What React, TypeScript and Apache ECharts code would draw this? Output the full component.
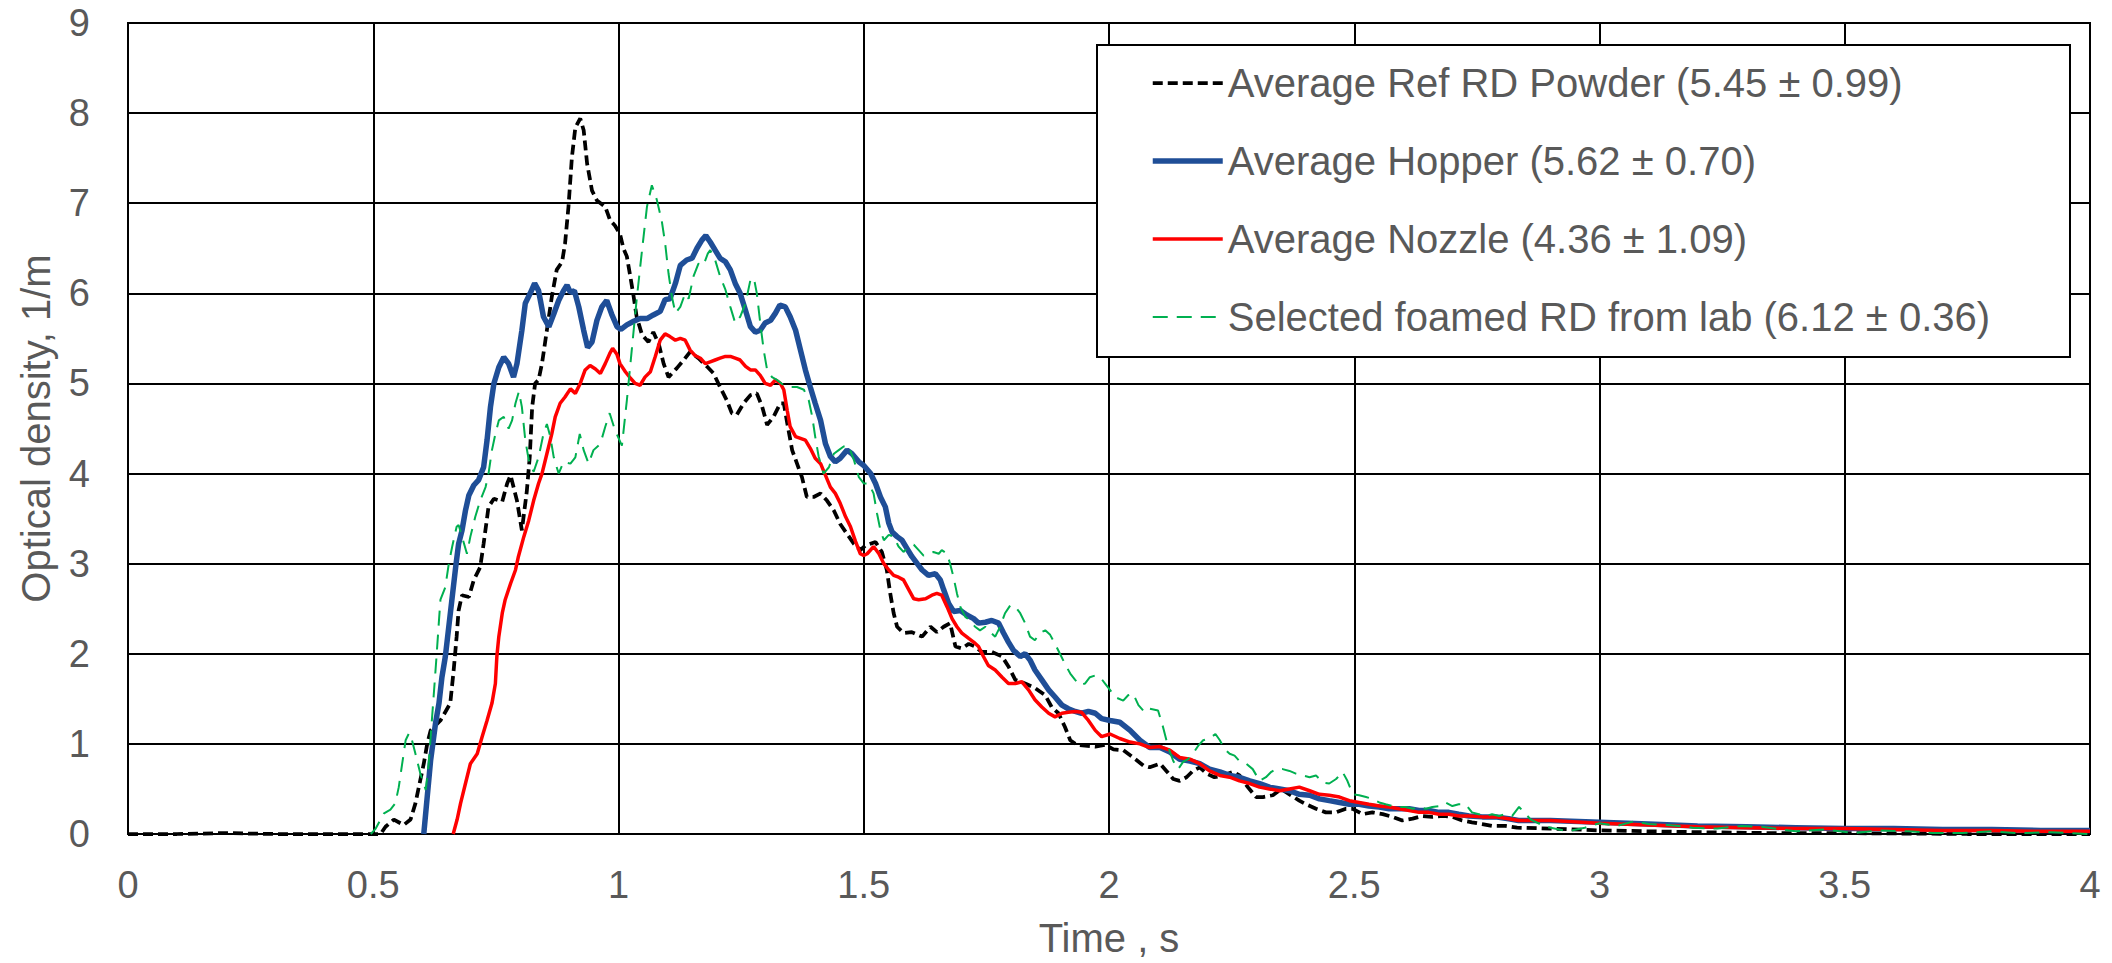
import React, { useEffect, useRef } from 'react';
import * as echarts from 'echarts';

// Time (s), optical density (1/m)
const refPowder: [number, number][] = [
  [0, 0], [0.1, 0], [0.2, 0.01], [0.3, 0], [0.4, 0], [0.5, 0],
  [0.515, 0.0], [0.525, 0.08], [0.542, 0.16], [0.562, 0.1], [0.576, 0.16], [0.586, 0.34], [0.596, 0.6], [0.603, 0.78], [0.61, 1.0], [0.617, 1.15], [0.637, 1.26], [0.657, 1.45], [0.664, 1.82], [0.67, 2.19], [0.674, 2.48], [0.681, 2.65], [0.695, 2.63], [0.705, 2.82], [0.718, 2.96], [0.725, 3.22], [0.735, 3.63], [0.746, 3.72], [0.763, 3.69], [0.773, 3.89], [0.78, 3.98], [0.793, 3.7], [0.803, 3.37], [0.813, 3.8], [0.819, 4.18], [0.824, 4.74], [0.83, 5.0], [0.837, 5.04], [0.844, 5.22], [0.854, 5.59], [0.864, 5.96], [0.874, 6.26], [0.885, 6.35], [0.891, 6.55], [0.898, 6.96], [0.905, 7.51], [0.912, 7.84], [0.922, 7.94], [0.929, 7.81], [0.936, 7.44], [0.946, 7.14], [0.956, 7.03], [0.973, 6.96], [0.983, 6.81], [0.993, 6.75], [1.003, 6.66], [1.01, 6.5], [1.017, 6.41], [1.024, 6.19], [1.031, 5.96], [1.037, 5.74], [1.048, 5.54], [1.061, 5.46], [1.071, 5.57], [1.082, 5.44], [1.092, 5.22], [1.102, 5.07], [1.119, 5.17], [1.133, 5.26], [1.146, 5.35], [1.163, 5.28], [1.18, 5.19], [1.194, 5.11], [1.207, 4.96], [1.221, 4.81], [1.231, 4.67], [1.241, 4.65], [1.255, 4.78], [1.269, 4.87], [1.282, 4.89], [1.293, 4.74], [1.303, 4.54], [1.316, 4.63], [1.33, 4.78], [1.337, 4.78], [1.344, 4.56], [1.354, 4.26], [1.364, 4.11], [1.374, 3.96], [1.384, 3.74], [1.398, 3.74], [1.412, 3.78], [1.425, 3.7], [1.439, 3.59], [1.452, 3.44], [1.466, 3.33], [1.48, 3.22], [1.493, 3.15], [1.503, 3.2], [1.524, 3.24], [1.537, 3.13], [1.547, 2.93], [1.554, 2.67], [1.561, 2.45], [1.568, 2.3], [1.581, 2.23], [1.598, 2.24], [1.619, 2.19], [1.636, 2.3], [1.649, 2.24], [1.663, 2.3], [1.676, 2.34], [1.687, 2.08], [1.7, 2.06], [1.714, 2.11], [1.727, 2.08], [1.741, 2.02], [1.761, 2.02], [1.782, 1.97], [1.795, 1.86], [1.809, 1.71], [1.829, 1.67], [1.849, 1.62], [1.87, 1.54], [1.883, 1.41], [1.897, 1.34], [1.91, 1.19], [1.921, 1.04], [1.934, 0.99], [1.951, 0.98], [1.972, 0.97], [1.992, 0.99], [2.009, 0.94], [2.029, 0.93], [2.049, 0.85], [2.07, 0.76], [2.083, 0.74], [2.104, 0.78], [2.117, 0.7], [2.131, 0.61], [2.144, 0.59], [2.158, 0.63], [2.171, 0.7], [2.185, 0.74], [2.199, 0.67], [2.215, 0.63], [2.232, 0.65], [2.253, 0.69], [2.266, 0.65], [2.283, 0.52], [2.3, 0.41], [2.314, 0.41], [2.334, 0.43], [2.351, 0.5], [2.368, 0.44], [2.388, 0.37], [2.402, 0.33], [2.422, 0.28], [2.442, 0.24], [2.463, 0.24], [2.483, 0.28], [2.497, 0.28], [2.517, 0.22], [2.537, 0.24], [2.558, 0.22], [2.578, 0.19], [2.598, 0.15], [2.619, 0.17], [2.639, 0.2], [2.659, 0.19], [2.68, 0.2], [2.7, 0.19], [2.72, 0.15], [2.74, 0.13], [2.761, 0.11], [2.781, 0.09], [2.808, 0.09], [2.832, 0.07], [2.9, 0.06], [3.0, 0.04], [3.1, 0.03], [3.2, 0.02], [3.35, 0.01], [3.5, 0.01], [3.75, 0.0], [4.0, 0.0],
];

const hopper: [number, number][] = [
  [0.603, 0], [0.61, 0.41], [0.617, 0.82], [0.627, 1.23], [0.634, 1.45], [0.64, 1.74], [0.647, 1.97], [0.654, 2.3], [0.661, 2.63], [0.668, 2.96], [0.674, 3.22], [0.681, 3.37], [0.688, 3.59], [0.695, 3.76], [0.705, 3.87], [0.715, 3.93], [0.725, 4.07], [0.732, 4.37], [0.739, 4.74], [0.746, 5.0], [0.756, 5.18], [0.766, 5.29], [0.776, 5.22], [0.786, 5.07], [0.793, 5.22], [0.803, 5.59], [0.81, 5.89], [0.82, 6.0], [0.829, 6.11], [0.837, 6.03], [0.847, 5.74], [0.858, 5.63], [0.868, 5.77], [0.878, 5.92], [0.888, 6.03], [0.895, 6.09], [0.902, 6.01], [0.91, 6.03], [0.919, 5.85], [0.929, 5.59], [0.937, 5.4], [0.946, 5.46], [0.956, 5.7], [0.966, 5.85], [0.976, 5.92], [0.986, 5.77], [0.997, 5.63], [1.005, 5.6], [1.017, 5.65], [1.031, 5.69], [1.044, 5.72], [1.058, 5.72], [1.071, 5.76], [1.085, 5.8], [1.095, 5.93], [1.105, 5.94], [1.116, 6.11], [1.126, 6.31], [1.139, 6.37], [1.15, 6.39], [1.16, 6.5], [1.17, 6.59], [1.178, 6.64], [1.187, 6.57], [1.197, 6.48], [1.207, 6.39], [1.218, 6.35], [1.228, 6.26], [1.238, 6.11], [1.248, 6.0], [1.259, 5.81], [1.269, 5.63], [1.279, 5.57], [1.289, 5.59], [1.299, 5.67], [1.31, 5.7], [1.32, 5.78], [1.329, 5.87], [1.34, 5.85], [1.35, 5.74], [1.361, 5.59], [1.371, 5.37], [1.381, 5.15], [1.391, 4.96], [1.401, 4.78], [1.412, 4.59], [1.422, 4.33], [1.432, 4.19], [1.442, 4.13], [1.452, 4.17], [1.466, 4.26], [1.476, 4.22], [1.49, 4.13], [1.5, 4.09], [1.514, 4.0], [1.524, 3.89], [1.534, 3.74], [1.544, 3.63], [1.551, 3.45], [1.558, 3.35], [1.568, 3.3], [1.578, 3.26], [1.588, 3.17], [1.598, 3.08], [1.609, 3.0], [1.619, 2.93], [1.632, 2.87], [1.646, 2.89], [1.656, 2.82], [1.663, 2.71], [1.673, 2.56], [1.683, 2.47], [1.697, 2.48], [1.71, 2.43], [1.724, 2.39], [1.734, 2.34], [1.748, 2.35], [1.761, 2.37], [1.775, 2.34], [1.785, 2.23], [1.795, 2.13], [1.805, 2.04], [1.819, 1.97], [1.829, 2.0], [1.839, 1.93], [1.849, 1.82], [1.863, 1.71], [1.877, 1.6], [1.89, 1.52], [1.904, 1.43], [1.917, 1.39], [1.931, 1.36], [1.944, 1.34], [1.958, 1.36], [1.972, 1.34], [1.985, 1.28], [2.002, 1.26], [2.022, 1.24], [2.043, 1.15], [2.063, 1.04], [2.083, 0.96], [2.104, 0.96], [2.124, 0.91], [2.144, 0.83], [2.165, 0.81], [2.185, 0.78], [2.205, 0.72], [2.226, 0.69], [2.246, 0.65], [2.266, 0.63], [2.287, 0.59], [2.307, 0.56], [2.327, 0.52], [2.348, 0.5], [2.368, 0.48], [2.388, 0.44], [2.409, 0.43], [2.429, 0.39], [2.449, 0.37], [2.47, 0.35], [2.49, 0.33], [2.51, 0.33], [2.53, 0.31], [2.551, 0.3], [2.571, 0.28], [2.591, 0.28], [2.612, 0.28], [2.632, 0.26], [2.652, 0.26], [2.673, 0.24], [2.693, 0.24], [2.713, 0.22], [2.734, 0.2], [2.761, 0.19], [2.788, 0.19], [2.815, 0.17], [2.835, 0.15], [2.9, 0.15], [3.0, 0.13], [3.1, 0.11], [3.2, 0.09], [3.3, 0.08], [3.4, 0.07], [3.5, 0.06], [3.6, 0.06], [3.7, 0.05], [3.8, 0.05], [3.9, 0.04], [4.0, 0.04],
];

const nozzle: [number, number][] = [
  [0.663, 0], [0.671, 0.16], [0.678, 0.34], [0.688, 0.56], [0.698, 0.78], [0.712, 0.89], [0.722, 1.08], [0.732, 1.26], [0.742, 1.45], [0.749, 1.67], [0.752, 1.97], [0.756, 2.19], [0.763, 2.45], [0.769, 2.6], [0.78, 2.78], [0.79, 2.93], [0.796, 3.08], [0.807, 3.3], [0.817, 3.48], [0.827, 3.7], [0.837, 3.89], [0.844, 4.0], [0.854, 4.22], [0.864, 4.44], [0.871, 4.63], [0.881, 4.78], [0.891, 4.85], [0.902, 4.94], [0.912, 4.89], [0.922, 5.0], [0.932, 5.15], [0.942, 5.2], [0.953, 5.16], [0.963, 5.11], [0.973, 5.22], [0.982, 5.33], [0.988, 5.39], [0.997, 5.32], [1.003, 5.22], [1.014, 5.13], [1.024, 5.06], [1.034, 5.0], [1.044, 4.98], [1.054, 5.07], [1.065, 5.13], [1.075, 5.3], [1.085, 5.48], [1.095, 5.55], [1.105, 5.52], [1.116, 5.48], [1.126, 5.5], [1.136, 5.48], [1.146, 5.37], [1.156, 5.31], [1.167, 5.28], [1.177, 5.22], [1.187, 5.24], [1.197, 5.26], [1.207, 5.28], [1.218, 5.3], [1.228, 5.3], [1.238, 5.28], [1.248, 5.26], [1.259, 5.19], [1.269, 5.15], [1.279, 5.15], [1.289, 5.09], [1.299, 5.0], [1.31, 4.98], [1.32, 5.04], [1.33, 5.0], [1.337, 4.93], [1.344, 4.7], [1.35, 4.52], [1.361, 4.41], [1.371, 4.39], [1.381, 4.37], [1.391, 4.28], [1.401, 4.17], [1.412, 4.11], [1.422, 3.98], [1.432, 3.85], [1.442, 3.78], [1.452, 3.67], [1.463, 3.52], [1.473, 3.41], [1.483, 3.25], [1.493, 3.11], [1.5, 3.09], [1.507, 3.11], [1.52, 3.19], [1.531, 3.11], [1.541, 3.0], [1.551, 2.93], [1.561, 2.87], [1.571, 2.85], [1.581, 2.82], [1.592, 2.71], [1.602, 2.61], [1.612, 2.6], [1.626, 2.61], [1.639, 2.65], [1.649, 2.67], [1.659, 2.65], [1.67, 2.52], [1.68, 2.39], [1.69, 2.3], [1.7, 2.23], [1.714, 2.17], [1.724, 2.13], [1.734, 2.08], [1.744, 1.97], [1.754, 1.87], [1.768, 1.82], [1.782, 1.74], [1.795, 1.67], [1.809, 1.67], [1.822, 1.69], [1.836, 1.6], [1.849, 1.49], [1.863, 1.41], [1.877, 1.34], [1.89, 1.3], [1.904, 1.34], [1.917, 1.35], [1.931, 1.36], [1.944, 1.35], [1.958, 1.26], [1.972, 1.15], [1.985, 1.08], [2.002, 1.11], [2.022, 1.06], [2.043, 1.02], [2.063, 1.0], [2.083, 0.96], [2.104, 0.97], [2.124, 0.93], [2.144, 0.85], [2.165, 0.83], [2.185, 0.78], [2.205, 0.7], [2.226, 0.65], [2.246, 0.63], [2.266, 0.59], [2.287, 0.56], [2.307, 0.52], [2.327, 0.5], [2.348, 0.48], [2.368, 0.5], [2.388, 0.52], [2.409, 0.48], [2.429, 0.44], [2.449, 0.43], [2.47, 0.41], [2.49, 0.37], [2.51, 0.35], [2.53, 0.33], [2.551, 0.31], [2.571, 0.3], [2.591, 0.28], [2.612, 0.26], [2.632, 0.24], [2.652, 0.24], [2.673, 0.22], [2.693, 0.22], [2.713, 0.2], [2.734, 0.2], [2.761, 0.19], [2.788, 0.19], [2.815, 0.17], [2.835, 0.15], [2.9, 0.15], [3.0, 0.12], [3.1, 0.1], [3.2, 0.08], [3.3, 0.07], [3.4, 0.06], [3.5, 0.06], [3.6, 0.05], [3.7, 0.04], [3.8, 0.04], [3.9, 0.03], [4.0, 0.03],
];

const foamedLab: [number, number][] = [
  [0.495, 0], [0.505, 0.06], [0.522, 0.23], [0.535, 0.27], [0.545, 0.34], [0.552, 0.52], [0.559, 0.78], [0.566, 1.04], [0.573, 1.12], [0.579, 1.04], [0.586, 0.89], [0.596, 0.67], [0.607, 0.49], [0.613, 0.78], [0.618, 1.15], [0.623, 1.52], [0.629, 1.97], [0.634, 2.37], [0.637, 2.6], [0.647, 2.74], [0.654, 3.0], [0.661, 3.19], [0.67, 3.41], [0.674, 3.43], [0.681, 3.3], [0.691, 3.11], [0.698, 3.3], [0.708, 3.52], [0.718, 3.7], [0.729, 3.85], [0.735, 4.0], [0.742, 4.26], [0.749, 4.44], [0.756, 4.59], [0.766, 4.63], [0.776, 4.5], [0.783, 4.59], [0.79, 4.78], [0.797, 4.91], [0.803, 4.74], [0.81, 4.37], [0.817, 4.15], [0.827, 4.02], [0.837, 4.18], [0.847, 4.44], [0.854, 4.55], [0.861, 4.41], [0.868, 4.18], [0.878, 4.0], [0.888, 4.13], [0.902, 4.11], [0.912, 4.18], [0.921, 4.44], [0.929, 4.26], [0.939, 4.11], [0.949, 4.26], [0.963, 4.33], [0.973, 4.52], [0.982, 4.67], [0.993, 4.48], [1.007, 4.31], [1.017, 4.81], [1.027, 5.37], [1.037, 5.93], [1.048, 6.48], [1.058, 6.96], [1.068, 7.2], [1.078, 7.04], [1.088, 6.81], [1.095, 6.56], [1.102, 6.22], [1.109, 5.96], [1.116, 5.78], [1.126, 5.85], [1.136, 6.0], [1.143, 5.94], [1.153, 6.19], [1.163, 6.33], [1.173, 6.31], [1.182, 6.44], [1.187, 6.48], [1.197, 6.37], [1.207, 6.19], [1.218, 6.04], [1.228, 5.85], [1.238, 5.67], [1.248, 5.74], [1.259, 5.89], [1.269, 6.15], [1.276, 6.17], [1.282, 6.0], [1.289, 5.67], [1.296, 5.37], [1.303, 5.15], [1.313, 5.07], [1.323, 5.04], [1.337, 4.98], [1.35, 4.96], [1.364, 4.96], [1.378, 4.93], [1.388, 4.81], [1.395, 4.63], [1.401, 4.41], [1.408, 4.19], [1.418, 4.0], [1.429, 4.07], [1.439, 4.22], [1.449, 4.26], [1.459, 4.3], [1.469, 4.31], [1.48, 4.15], [1.49, 3.96], [1.5, 3.89], [1.51, 3.89], [1.52, 3.78], [1.527, 3.56], [1.534, 3.37], [1.541, 3.26], [1.551, 3.32], [1.561, 3.3], [1.571, 3.19], [1.581, 3.13], [1.592, 3.19], [1.602, 3.21], [1.612, 3.15], [1.622, 3.09], [1.632, 3.11], [1.642, 3.13], [1.653, 3.11], [1.659, 3.15], [1.67, 3.11], [1.676, 3.0], [1.683, 2.85], [1.69, 2.67], [1.697, 2.52], [1.707, 2.41], [1.717, 2.37], [1.727, 2.3], [1.737, 2.26], [1.748, 2.3], [1.758, 2.24], [1.768, 2.19], [1.778, 2.3], [1.788, 2.45], [1.799, 2.54], [1.809, 2.52], [1.819, 2.45], [1.829, 2.34], [1.839, 2.19], [1.849, 2.15], [1.859, 2.23], [1.87, 2.26], [1.88, 2.21], [1.89, 2.11], [1.9, 2.0], [1.91, 1.89], [1.921, 1.78], [1.931, 1.71], [1.941, 1.65], [1.951, 1.67], [1.961, 1.74], [1.972, 1.76], [1.982, 1.74], [1.992, 1.67], [2.002, 1.6], [2.012, 1.52], [2.029, 1.48], [2.039, 1.54], [2.049, 1.56], [2.06, 1.43], [2.073, 1.35], [2.083, 1.39], [2.1, 1.37], [2.11, 1.19], [2.121, 0.96], [2.131, 0.81], [2.141, 0.72], [2.151, 0.8], [2.161, 0.83], [2.171, 0.89], [2.182, 0.98], [2.192, 1.04], [2.205, 1.06], [2.217, 1.11], [2.226, 1.04], [2.236, 0.94], [2.246, 0.89], [2.256, 0.87], [2.266, 0.81], [2.28, 0.78], [2.293, 0.72], [2.307, 0.59], [2.32, 0.63], [2.331, 0.69], [2.341, 0.72], [2.354, 0.72], [2.368, 0.7], [2.381, 0.67], [2.395, 0.65], [2.409, 0.63], [2.422, 0.65], [2.436, 0.57], [2.449, 0.56], [2.463, 0.61], [2.476, 0.69], [2.486, 0.59], [2.497, 0.44], [2.51, 0.43], [2.524, 0.41], [2.537, 0.39], [2.551, 0.35], [2.564, 0.33], [2.578, 0.31], [2.591, 0.3], [2.605, 0.3], [2.619, 0.28], [2.632, 0.3], [2.646, 0.28], [2.659, 0.3], [2.673, 0.31], [2.686, 0.35], [2.7, 0.31], [2.713, 0.33], [2.727, 0.33], [2.74, 0.24], [2.754, 0.22], [2.768, 0.2], [2.781, 0.22], [2.795, 0.2], [2.808, 0.22], [2.822, 0.2], [2.836, 0.3], [2.86, 0.16], [2.89, 0.08], [2.936, 0.03], [2.97, 0.07], [3.0, 0.12], [3.035, 0.09], [3.07, 0.14], [3.1, 0.11], [3.14, 0.1], [3.19, 0.07], [3.24, 0.06], [3.29, 0.09], [3.33, 0.08], [3.37, 0.05], [3.4, 0.03], [3.46, 0.05], [3.52, 0.01], [3.57, 0.04], [3.63, 0.03], [3.68, 0.01], [3.74, 0.01], [3.8, 0.03], [3.85, 0.01], [3.92, 0.02], [4.0, 0.0],
];

const seriesNames = [
  'Average Ref RD Powder (5.45 ± 0.99)',
  'Average Hopper (5.62 ± 0.70)',
  'Average Nozzle (4.36 ± 1.09)',
  'Selected foamed RD from lab (6.12 ± 0.36)',
];

const X_MIN = 0, X_MAX = 4, X_STEP = 0.5;
const Y_MIN = 0, Y_MAX = 9, Y_STEP = 1;

const FONT = '"Liberation Sans", Arial, sans-serif';
const GRAY = '#595959';

export default function App() {
  const ref = useRef<HTMLDivElement>(null);
  useEffect(() => {
    if (!ref.current) return;
    const chart = echarts.init(ref.current, null, { renderer: 'svg' });
    chart.setOption({
      animation: false,
      backgroundColor: '#ffffff',
      textStyle: { fontFamily: FONT },
      grid: {
        left: 128, right: 22, top: 23, bottom: 128,
        show: true, borderColor: '#000', borderWidth: 2, backgroundColor: 'transparent',
      },
      xAxis: {
        type: 'value', min: X_MIN, max: X_MAX, interval: X_STEP,
        name: 'Time , s', nameLocation: 'middle', nameGap: 84,
        nameTextStyle: { fontSize: 40, color: GRAY, fontFamily: FONT },
        axisLine: { show: true, onZero: false, lineStyle: { color: '#000', width: 2 } },
        axisTick: { show: false },
        axisLabel: { fontSize: 38, color: GRAY, margin: 32, fontFamily: FONT },
        splitLine: { show: true, lineStyle: { color: '#000', width: 2 } },
      },
      yAxis: {
        type: 'value', min: Y_MIN, max: Y_MAX, interval: Y_STEP,
        name: 'Optical density, 1/m', nameLocation: 'middle', nameRotate: 90, nameGap: 72,
        nameTextStyle: { fontSize: 40, color: GRAY, fontFamily: FONT },
        axisLine: { show: true, lineStyle: { color: '#000', width: 2 } },
        axisTick: { show: false },
        axisLabel: { fontSize: 38, color: GRAY, margin: 38, fontFamily: FONT },
        splitLine: { show: true, lineStyle: { color: '#000', width: 2 } },
      },
      graphic: [
        {
          type: 'rect', z: 3,
          shape: { x: 1097, y: 45, width: 973, height: 312 },
          style: { fill: '#ffffff', stroke: '#000', lineWidth: 2 },
        },
      ],
      legend: {
        orient: 'vertical', left: 1150, top: 63, padding: 0,
        itemWidth: 70, itemHeight: 2, itemGap: 38, z: 5,
        itemStyle: { opacity: 0 },
        lineStyle: { width: 'inherit' },
        textStyle: { fontSize: 40, color: GRAY, lineHeight: 40, fontFamily: FONT },
        data: seriesNames,
      },
      series: [
        {
          name: seriesNames[0], type: 'line', data: refPowder, symbol: 'none', showSymbol: false,
          lineStyle: { color: '#000000', width: 3.75, type: [10, 5] }, itemStyle: { color: '#000000' }, z: 2,
        },
        {
          name: seriesNames[1], type: 'line', data: hopper, symbol: 'none', showSymbol: false,
          lineStyle: { color: '#1F4E97', width: 5.5 }, itemStyle: { color: '#1F4E97' }, z: 2,
        },
        {
          name: seriesNames[2], type: 'line', data: nozzle, symbol: 'none', showSymbol: false,
          lineStyle: { color: '#FF0000', width: 3.5 }, itemStyle: { color: '#FF0000' }, z: 2,
        },
        {
          name: seriesNames[3], type: 'line', data: foamedLab, symbol: 'none', showSymbol: false,
          lineStyle: { color: '#00B050', width: 2, type: [15, 9] }, itemStyle: { color: '#00B050' }, z: 2,
        },
      ],
    });
    return () => chart.dispose();
  }, []);
  return (
    <div
      ref={ref}
      style={{ position: 'absolute', left: 0, top: 0, width: 2112, height: 963, background: '#fff' }}
    />
  );
}
